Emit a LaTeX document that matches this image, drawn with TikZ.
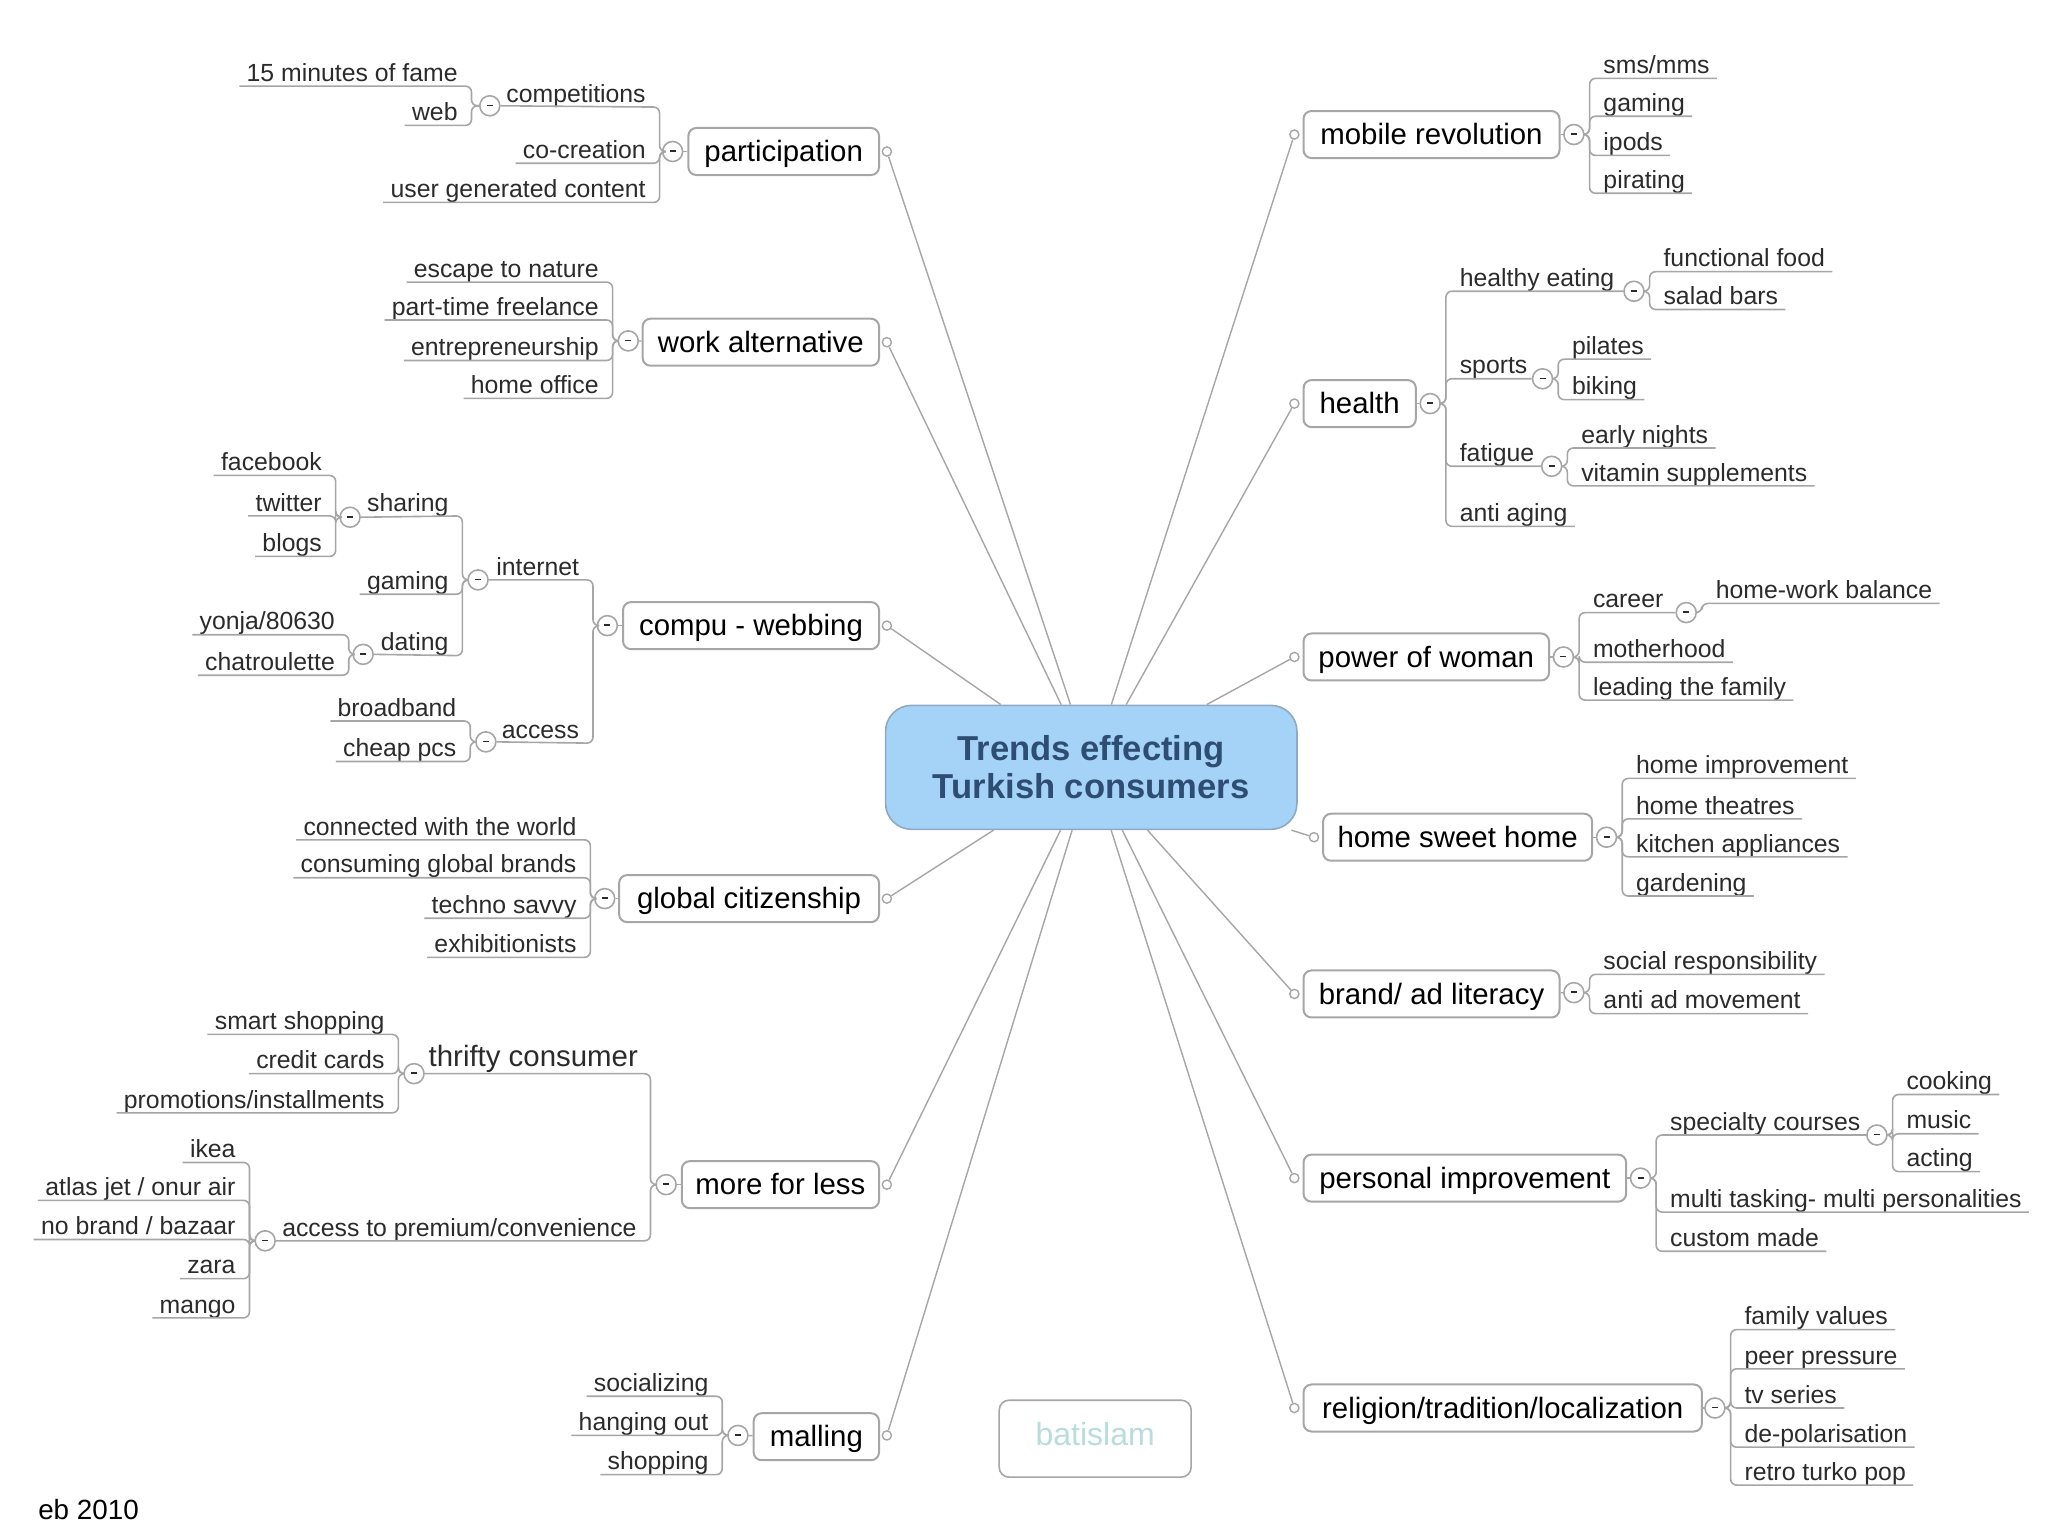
\documentclass[tikz,border=0pt]{standalone}
\usepackage{fontspec}
\setmainfont{Liberation Sans}
\newcommand{\leaffont}{\fontsize{12.4}{14}\selectfont}
\newcommand{\bigfont}{\fontsize{14.7}{16}\selectfont}
\newcommand{\hubfont}{\fontsize{17.3}{19}\selectfont\bfseries}
\newcommand{\capfont}{\fontsize{13.9}{16}\selectfont}
\newcommand{\brandfont}{\fontsize{16}{18}\selectfont}
\definecolor{linegray}{HTML}{A6A6A6}
\definecolor{inkgray}{HTML}{2B2B2B}
\definecolor{hubfill}{HTML}{A5D3F8}
\definecolor{hubedge}{HTML}{8FA9C2}
\definecolor{hubtext}{HTML}{2E4D72}
\definecolor{brandtext}{HTML}{B9DCDC}
\tikzset{
  leaf/.style={inner xsep=3.5pt,inner ysep=0.4pt,text height=9.5pt,text depth=1.8pt,text=inkgray,font=\leaffont},
  bigleaf/.style={leaf,font=\bigfont,text depth=3pt},
  topicbox/.style={draw=linegray,line width=1pt,fill=white,rounded corners=4pt,inner sep=0pt,text=black,font=\bigfont,text height=12.6pt,text depth=2.5pt},
  coll/.style={circle,draw=linegray,line width=0.8pt,fill=white,inner sep=0pt,minimum size=10pt,text=inkgray},
  knob/.style={circle,draw=linegray,line width=0.7pt,fill=white,inner sep=0pt,minimum size=4.6pt},
  link/.style={draw=linegray,line width=0.8pt,rounded corners=3pt},
  spoke/.style={draw=linegray,line width=0.7pt},
  hub/.style={draw=hubedge,line width=0.8pt,fill=hubfill,rounded corners=13pt,inner sep=0pt,align=center,text=hubtext,font=\hubfont,minimum width=205.7pt,minimum height=62pt},
  brandbox/.style={topicbox,line width=0.8pt,rounded corners=5pt,minimum width=96pt,minimum height=38.5pt,text=brandtext,font=\brandfont,text height=11.7pt,text depth=5.3pt}
}
\newcommand{\lfL}[4]{\node[leaf,anchor=south east] (#1) at ({#2-5},#3) {#4};}
\newcommand{\lfR}[4]{\node[leaf,anchor=south west] (#1) at ({#2+5},#3) {#4};}
\newcommand{\cnL}[3]{\draw[link] (#3.south west) -- (#3.south east -| #2) -- (#1.west -| #2) -- (#1.west);}
\newcommand{\cnR}[3]{\draw[link] (#3.south east) -- (#3.south west -| #2) -- (#1.east -| #2) -- (#1.east);}
\newcommand{\subL}[4]{\draw[link] (#1.east) -- (#4.south east -| #3) -- (#2.west -| #3) -- (#2.west);}
\newcommand{\subR}[4]{\draw[link] (#1.west) -- (#4.south west -| #3) -- (#2.east -| #3) -- (#2.east);}
\newcommand{\topicnode}[6]{\node[topicbox,minimum width={(#3-#2)*0.6531pt},minimum height={(#5-#4)*0.6531pt}] (#1) at ({(#2+#3)/2},{(#4+#5)/2}) {#6};}
\newcommand{\collnode}[3]{\node[coll] (#1) at (#2,#3) {\rule[0.4pt]{3pt}{0.8pt}};}
\newcommand{\barat}[2]{\coordinate (#1) at (#2,0);}
\begin{document}
\begin{tikzpicture}[x=0.6531pt,y=-0.6531pt]
\useasboundingbox (0,0) rectangle (1568,1176);
% logo box and caption
\node[brandbox] (brand) at (838.5,1101.5) {batislam};
\node[anchor=base west,inner sep=0pt,font=\capfont,text=black] (cap) at (29,1163) {eb 2010};
% hub
\node[hub] (hub) at (835.5,587.5) {Trends effecting\\Turkish consumers};
% topics
\topicnode{tP}{527}{673}{98}{134}{participation}
\topicnode{tW}{492}{673}{244}{280}{work alternative}
\topicnode{tC}{477}{673}{461}{497}{compu - webbing}
\topicnode{tG}{474}{673}{670}{706}{global citizenship}
\topicnode{tM}{522}{673}{889}{925}{more for less}
\topicnode{tL}{577}{673}{1082}{1118}{malling}
\topicnode{tR1}{998}{1194}{85}{121}{mobile revolution}
\topicnode{tR2}{998}{1084}{291}{327}{health}
\topicnode{tR3}{998}{1186}{485}{521}{power of woman}
\topicnode{tR4}{1013}{1219}{623}{659}{home sweet home}
\topicnode{tR5}{998}{1194}{743}{779}{brand/ ad literacy}
\topicnode{tR6}{998}{1245}{884}{920}{personal improvement}
\topicnode{tR7}{998}{1303}{1060}{1096}{religion/tradition/localization}
% knobs on the hub side
\node[knob] (kP) at (679,116) {};
\node[knob] (kW) at (679,262) {};
\node[knob] (kC) at (679,479) {};
\node[knob] (kG) at (679,688) {};
\node[knob] (kM) at (679,907) {};
\node[knob] (kL) at (679,1099) {};
\node[knob] (k1) at (991,103) {};
\node[knob] (k2) at (991,309) {};
\node[knob] (k3) at (991,503) {};
\node[knob] (k4) at (1006,641) {};
\node[knob] (k5) at (991,761) {};
\node[knob] (k6) at (991,902) {};
\node[knob] (k7) at (991,1078) {};
\foreach \kk in {kP,kW,kC,kG,kM,kL,k1,k2,k3,k4,k5,k6,k7} {\draw[spoke] (hub) -- (\kk);}
% collapse circles
\collnode{cP}{515}{116}
\collnode{cP1}{375}{81}
\collnode{cW}{481}{261}
\collnode{cC}{465}{479}
\collnode{cC1}{366}{444}
\collnode{cC2}{372}{568}
\collnode{cC3}{268}{396}
\collnode{cC4}{278}{501}
\collnode{cG}{463}{688}
\collnode{cM}{510}{907}
\collnode{cM1}{317}{822}
\collnode{cM2}{203}{950}
\collnode{cL}{565}{1099}
\collnode{c1}{1205}{103}
\collnode{c2}{1095}{309}
\collnode{c2a}{1251}{223}
\collnode{c2b}{1181}{290}
\collnode{c2c}{1188}{357}
\collnode{c3}{1197}{503}
\collnode{c3a}{1291}{469}
\collnode{c4}{1230}{641}
\collnode{c5}{1205}{760}
\collnode{c6}{1256}{902}
\collnode{c6a}{1437}{869}
\collnode{c7}{1313}{1078}
% topic stubs
\foreach \pa/\pb in {cP/tP,cW/tW,cC/tC,cG/tG,cM/tM,cL/tL,c1/tR1,c2/tR2,c3/tR3,c4/tR4,c5/tR5,c6/tR6,c7/tR7} {\draw[spoke] (\pa) -- (\pb);}
% bars
\barat{bP}{505}\barat{bP1}{361}\barat{bW}{469}\barat{bC}{454}\barat{bC1}{354}\barat{bC2}{360}\barat{bC3}{257}\barat{bC4}{267}
\barat{bG}{452}\barat{bM}{498}\barat{bM1}{305}\barat{bM2}{191}\barat{bL}{553}
\barat{b1}{1217}\barat{b2}{1107}\barat{b2a}{1263}\barat{b2b}{1193}\barat{b2c}{1200}\barat{b3}{1209}\barat{b3a}{1303}
\barat{b4}{1242}\barat{b5}{1217}\barat{b6}{1268}\barat{b6a}{1449}\barat{b7}{1325}
% leaves: left side
\lfL{p1}{505}{82}{competitions}
\lfL{p2}{505}{125}{co-creation}
\lfL{p3}{505}{155}{user generated content}
\lfL{p4}{361}{66}{15 minutes of fame}
\lfL{p5}{361}{96}{web}
\lfL{w1}{469}{216}{escape to nature}
\lfL{w2}{469}{245}{part-time freelance}
\lfL{w3}{469}{276}{entrepreneurship}
\lfL{w4}{469}{305}{home office}
\lfL{x1}{454}{444}{internet}
\lfL{x2}{454}{569}{access}
\lfL{x3}{354}{395}{sharing}
\lfL{x4}{354}{455}{gaming}
\lfL{x5}{354}{502}{dating}
\lfL{x6}{257}{364}{facebook}
\lfL{x7}{257}{395}{twitter}
\lfL{x8}{257}{426}{blogs}
\lfL{x9}{267}{486}{yonja/80630}
\lfL{x10}{267}{517}{chatroulette}
\lfL{x11}{360}{552}{broadband}
\lfL{x12}{360}{583}{cheap pcs}
\lfL{g1}{452}{643}{connected with the world}
\lfL{g2}{452}{672}{consuming global brands}
\lfL{g3}{452}{703}{techno savvy}
\lfL{g4}{452}{733}{exhibitionists}
\node[bigleaf,anchor=south east] (m1) at (494,822) {thrifty consumer};
\lfL{m2}{498}{950}{access to premium/convenience}
\lfL{m3}{305}{792}{smart shopping}
\lfL{m4}{305}{822}{credit cards}
\lfL{m5}{305}{852}{promotions/installments}
\lfL{m6}{191}{890}{ikea}
\lfL{m7}{191}{919}{atlas jet / onur air}
\lfL{m8}{191}{949}{no brand / bazaar}
\lfL{m9}{191}{979}{zara}
\lfL{m10}{191}{1009}{mango}
\lfL{l1}{553}{1069}{socializing}
\lfL{l2}{553}{1099}{hanging out}
\lfL{l3}{553}{1129}{shopping}
% leaves: right side
\lfR{r1}{1217}{60}{sms/mms}
\lfR{r2}{1217}{89}{gaming}
\lfR{r3}{1217}{119}{ipods}
\lfR{r4}{1217}{148}{pirating}
\lfR{h1}{1107}{223}{healthy eating}
\lfR{h2}{1107}{290}{sports}
\lfR{h3}{1107}{357}{fatigue}
\lfR{h4}{1107}{403}{anti aging}
\lfR{h5}{1263}{208}{functional food}
\lfR{h6}{1263}{237}{salad bars}
\lfR{h7}{1193}{275}{pilates}
\lfR{h8}{1193}{306}{biking}
\lfR{h9}{1200}{343}{early nights}
\lfR{h10}{1200}{372}{vitamin supplements}
\lfR{v1}{1209}{469}{career}
\lfR{v2}{1209}{507}{motherhood}
\lfR{v3}{1209}{536}{leading the family}
\lfR{v4}{1303}{462}{home-work balance}
\lfR{s1}{1242}{596}{home improvement}
\lfR{s2}{1242}{627}{home theatres}
\lfR{s3}{1242}{656}{kitchen appliances}
\lfR{s4}{1242}{686}{gardening}
\lfR{a1}{1217}{746}{social responsibility}
\lfR{a2}{1217}{776}{anti ad movement}
\lfR{i1}{1268}{869}{specialty courses}
\lfR{i2}{1268}{928}{multi tasking- multi personalities}
\lfR{i3}{1268}{958}{custom made}
\lfR{i4}{1449}{838}{cooking}
\lfR{i5}{1449}{868}{music}
\lfR{i6}{1449}{897}{acting}
\lfR{t1}{1325}{1018}{family values}
\lfR{t2}{1325}{1048}{peer pressure}
\lfR{t3}{1325}{1078}{tv series}
\lfR{t4}{1325}{1108}{de-polarisation}
\lfR{t5}{1325}{1137}{retro turko pop}
% connectors: left side
\foreach \lf in {p2,p3} {\cnL{cP}{bP}{\lf}}
\foreach \lf in {p4,p5} {\cnL{cP1}{bP1}{\lf}}
\foreach \lf in {w1,w2,w3,w4} {\cnL{cW}{bW}{\lf}}
\foreach \lf in {x6,x7,x8} {\cnL{cC3}{bC3}{\lf}}
\foreach \lf in {x9,x10} {\cnL{cC4}{bC4}{\lf}}
\foreach \lf in {x11,x12} {\cnL{cC2}{bC2}{\lf}}
\cnL{cC1}{bC1}{x4}
\foreach \lf in {g1,g2,g3,g4} {\cnL{cG}{bG}{\lf}}
\foreach \lf in {m3,m4,m5} {\cnL{cM1}{bM1}{\lf}}
\foreach \lf in {m6,m7,m8,m9,m10} {\cnL{cM2}{bM2}{\lf}}
\foreach \lf in {l1,l2,l3} {\cnL{cL}{bL}{\lf}}
% branches whose line starts at a further collapse circle
\subL{cP1}{cP}{bP}{p1}
\subL{cC1}{cC}{bC}{x1}
\subL{cC2}{cC}{bC}{x2}
\subL{cC3}{cC1}{bC1}{x3}
\subL{cC4}{cC1}{bC1}{x5}
\subL{cM1}{cM}{bM}{m1}
\subL{cM2}{cM}{bM}{m2}
% connectors: right side
\foreach \lf in {r1,r2,r3,r4} {\cnR{c1}{b1}{\lf}}
\cnR{c2}{b2}{h4}
\foreach \lf in {h5,h6} {\cnR{c2a}{b2a}{\lf}}
\foreach \lf in {h7,h8} {\cnR{c2b}{b2b}{\lf}}
\foreach \lf in {h9,h10} {\cnR{c2c}{b2c}{\lf}}
\subR{c2a}{c2}{b2}{h1}
\subR{c2b}{c2}{b2}{h2}
\subR{c2c}{c2}{b2}{h3}
\foreach \lf in {v2,v3} {\cnR{c3}{b3}{\lf}}
\subR{c3a}{c3}{b3}{v1}
\cnR{c3a}{b3a}{v4}
\foreach \lf in {s1,s2,s3,s4} {\cnR{c4}{b4}{\lf}}
\foreach \lf in {a1,a2} {\cnR{c5}{b5}{\lf}}
\foreach \lf in {i2,i3} {\cnR{c6}{b6}{\lf}}
\subR{c6a}{c6}{b6}{i1}
\foreach \lf in {i4,i5,i6} {\cnR{c6a}{b6a}{\lf}}
\foreach \lf in {t1,t2,t3,t4,t5} {\cnR{c7}{b7}{\lf}}
\end{tikzpicture}
\end{document}
